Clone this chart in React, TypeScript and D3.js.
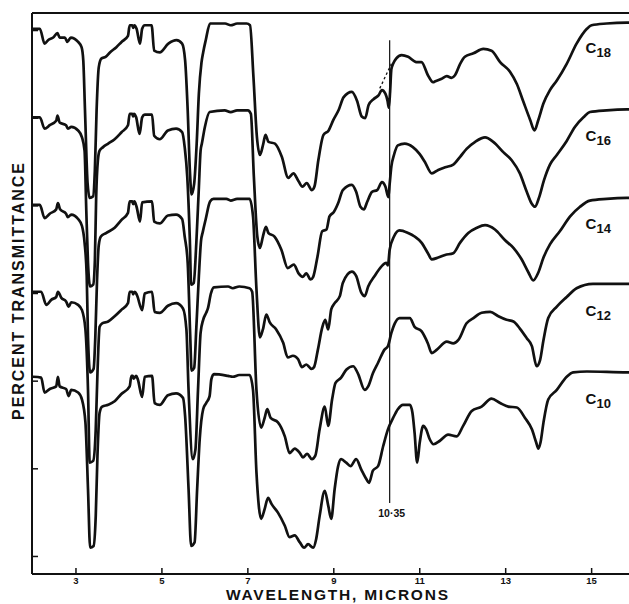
import * as d3 from "d3";

// x axis (microns) and the hidden y ticks on the left frame
const wavelengthTicks = [3, 5, 7, 9, 11, 13, 15];
const levelTicks = [0, 100, 200, 300, 400, 500, 600];

// chain length of each trace and the level where its trace starts
const chainLengths = ["18", "16", "14", "12", "10"];
const offsets = [600, 500, 400, 300, 200];

// marker for the 10.35 micron band
const markerWavelength = 10.3;
const markerLabel = "10·35";
const markerSpan = [61, 589];

// [wavelength, transmittance relative to the trace's start level]
const c18: [number, number][] = [
  [2.0, 2], [2.16, 2], [2.27, -15], [2.35, -11], [2.47, -8], [2.57, -3], [2.62, -8], [2.74, -8],
  [2.8, -13], [2.88, -8], [3.05, -13], [3.13, -19], [3.17, -34], [3.21, -91], [3.27, -174],
  [3.32, -191], [3.4, -189], [3.44, -159], [3.48, -91], [3.53, -42], [3.59, -32], [3.69, -30],
  [3.79, -25], [3.94, -19], [4.06, -13], [4.21, -6], [4.25, 6], [4.31, 6], [4.33, 3], [4.36, 6],
  [4.41, 2], [4.49, -15], [4.54, 2], [4.6, 6], [4.76, 6], [4.82, -23], [4.95, -25], [5.15, -15],
  [5.34, -11], [5.47, -15], [5.54, -34], [5.6, -91], [5.65, -159], [5.69, -187], [5.75, -175],
  [5.81, -128], [5.86, -72], [5.92, -37], [5.96, -25], [6.02, -11], [6.12, 8], [6.47, 8],
  [6.6, 6], [6.75, 8], [6.97, 8], [7.05, 6], [7.13, -53], [7.21, -121], [7.28, -142],
  [7.36, -129], [7.41, -119], [7.48, -127], [7.63, -129], [7.79, -144], [7.94, -168],
  [8.06, -163], [8.18, -172], [8.27, -178], [8.37, -174], [8.49, -182], [8.55, -178],
  [8.64, -148], [8.76, -119], [8.88, -114], [8.99, -102], [9.11, -91], [9.23, -76], [9.42, -70],
  [9.54, -80], [9.65, -98], [9.73, -100], [9.81, -85], [9.93, -78], [10.04, -74], [10.12, -68],
  [10.2, -72], [10.25, -80], [10.28, -88], [10.31, -70], [10.34, -44], [10.38, -38],
  [10.45, -32], [10.58, -28], [10.73, -30], [10.92, -36], [11.04, -36], [11.19, -51],
  [11.31, -59], [11.36, -58], [11.51, -55], [11.63, -52], [11.74, -54], [11.82, -51],
  [11.94, -38], [12.05, -30], [12.25, -26], [12.48, -21], [12.67, -23], [12.87, -36],
  [13.1, -47], [13.26, -61], [13.41, -81], [13.57, -102], [13.67, -114], [13.76, -102],
  [13.88, -83], [14.03, -68], [14.19, -57], [14.42, -38], [14.65, -15], [14.89, 2], [15.0, 6],
  [15.35, 8], [15.82, 9], [16.0, 9],
];
// dashed baseline drawn across the 10.35 band of C18
const c18Baseline: [number, number][] = [[10.07, -66], [10.34, -38]];

const c16: [number, number][] = [
  [2.0, 1], [2.16, 1], [2.27, -12], [2.39, -8], [2.54, -3], [2.57, 3], [2.62, -5], [2.77, -8],
  [2.81, -12], [2.89, -10], [3.05, -14], [3.14, -22], [3.2, -37], [3.24, -105], [3.28, -165],
  [3.33, -192], [3.4, -190], [3.44, -162], [3.47, -90], [3.51, -48], [3.55, -37], [3.63, -33],
  [3.75, -29], [3.9, -24], [4.06, -16], [4.21, -8], [4.25, 5], [4.31, 5], [4.33, 2], [4.35, 5],
  [4.4, 1], [4.48, -18], [4.54, 1], [4.6, 4], [4.77, 4], [4.82, -20], [4.95, -24], [5.14, -14],
  [5.33, -12], [5.47, -16], [5.53, -33], [5.59, -67], [5.65, -139], [5.68, -190], [5.74, -188],
  [5.8, -143], [5.86, -79], [5.9, -37], [5.93, -29], [6.0, -10], [6.11, 7], [6.46, 9], [6.6, 7],
  [6.75, 9], [7.0, 9], [7.07, 5], [7.14, -67], [7.22, -135], [7.28, -148], [7.35, -135],
  [7.42, -124], [7.48, -131], [7.62, -135], [7.78, -150], [7.93, -171], [8.07, -167],
  [8.18, -177], [8.28, -181], [8.36, -177], [8.46, -184], [8.52, -181], [8.62, -158],
  [8.73, -129], [8.83, -127], [8.9, -112], [9.0, -107], [9.1, -97], [9.21, -82], [9.42, -76],
  [9.52, -84], [9.62, -101], [9.7, -104], [9.78, -95], [9.89, -84], [10.01, -82], [10.12, -73],
  [10.2, -78], [10.27, -90], [10.3, -75], [10.34, -55], [10.4, -42], [10.49, -31], [10.65, -29],
  [10.84, -33], [11.0, -41], [11.12, -50], [11.28, -63], [11.43, -59], [11.59, -56],
  [11.78, -53], [11.94, -44], [12.09, -35], [12.29, -27], [12.52, -22], [12.71, -27],
  [12.95, -39], [13.14, -48], [13.33, -63], [13.49, -84], [13.6, -97], [13.68, -101],
  [13.78, -90], [13.89, -71], [14.03, -53], [14.19, -42], [14.42, -26], [14.61, -10],
  [14.81, 1], [14.96, 7], [15.35, 9], [15.82, 10], [16.0, 10],
];

const c14: [number, number][] = [
  [2.0, 1], [2.16, 1], [2.27, -14], [2.39, -9], [2.54, -4], [2.58, 3], [2.63, -4], [2.77, -9],
  [2.81, -13], [2.89, -10], [3.05, -15], [3.14, -23], [3.2, -42], [3.25, -80], [3.28, -150],
  [3.33, -190], [3.41, -186], [3.45, -150], [3.49, -85], [3.53, -45], [3.58, -35], [3.7, -31],
  [3.9, -25], [4.06, -16], [4.21, -8], [4.25, 5], [4.31, 5], [4.33, 2], [4.36, 5], [4.41, -1],
  [4.49, -18], [4.54, 4], [4.77, 5], [4.82, -18], [4.95, -20], [5.14, -11], [5.33, -10],
  [5.47, -15], [5.53, -35], [5.6, -65], [5.66, -150], [5.69, -188], [5.75, -185], [5.8, -140],
  [5.86, -80], [5.91, -40], [5.95, -30], [6.02, -15], [6.12, 5], [6.2, 8], [6.5, 8], [6.6, 6],
  [6.75, 8], [7.04, 8], [7.12, -12], [7.2, -95], [7.28, -150], [7.35, -141], [7.43, -124],
  [7.51, -133], [7.66, -141], [7.82, -156], [7.93, -173], [8.05, -171], [8.17, -175],
  [8.26, -184], [8.36, -181], [8.48, -186], [8.54, -184], [8.63, -164], [8.73, -139],
  [8.8, -130], [8.87, -141], [8.94, -118], [9.02, -111], [9.14, -103], [9.21, -88], [9.42, -75],
  [9.52, -80], [9.64, -99], [9.72, -103], [9.8, -92], [9.95, -80], [10.11, -69], [10.22, -65],
  [10.26, -68], [10.3, -50], [10.4, -35], [10.53, -28], [10.73, -31], [10.88, -35],
  [11.04, -42], [11.19, -54], [11.28, -61], [11.43, -59], [11.59, -56], [11.78, -54],
  [11.94, -42], [12.13, -31], [12.33, -25], [12.52, -22], [12.75, -27], [12.98, -39],
  [13.18, -48], [13.37, -61], [13.53, -76], [13.64, -85], [13.76, -76], [13.88, -59],
  [14.03, -44], [14.26, -29], [14.5, -12], [14.73, -1], [14.96, 6], [15.35, 8], [15.82, 9],
  [16.0, 9],
];

const c12: [number, number][] = [
  [2.0, 2], [2.19, 2], [2.31, -13], [2.43, -7], [2.54, -4], [2.58, 2], [2.66, -5], [2.77, -9],
  [2.83, -15], [2.89, -10], [3.05, -13], [3.14, -19], [3.22, -41], [3.28, -110], [3.32, -193],
  [3.4, -191], [3.46, -155], [3.5, -91], [3.55, -38], [3.61, -34], [3.75, -32], [3.9, -26],
  [4.05, -19], [4.21, -11], [4.25, 2], [4.31, 2], [4.33, -1], [4.37, 2], [4.42, -2],
  [4.54, -19], [4.6, 0], [4.77, 2], [4.83, -21], [4.95, -22], [5.14, -14], [5.33, -11],
  [5.49, -17], [5.57, -41], [5.62, -110], [5.72, -189], [5.78, -178], [5.84, -110],
  [5.9, -45], [5.96, -30], [6.03, -22], [6.07, -17], [6.14, 0], [6.21, 7], [6.54, 8],
  [6.65, 6], [6.8, 8], [7.04, 6], [7.1, 2], [7.2, -110], [7.31, -153], [7.39, -142],
  [7.45, -132], [7.53, -142], [7.7, -147], [7.86, -163], [7.97, -182], [8.09, -177],
  [8.21, -182], [8.28, -187], [8.38, -183], [8.49, -189], [8.57, -185], [8.67, -155],
  [8.79, -129], [8.87, -151], [8.96, -121], [9.04, -102], [9.17, -96], [9.29, -87],
  [9.45, -83], [9.56, -91], [9.72, -110], [9.8, -106], [9.91, -91], [10.03, -79],
  [10.18, -64], [10.26, -60], [10.34, -45], [10.42, -34], [10.53, -28], [10.77, -28],
  [10.88, -38], [11.04, -43], [11.19, -57], [11.28, -68], [11.4, -64], [11.63, -55],
  [11.78, -57], [11.9, -53], [12.09, -34], [12.25, -28], [12.44, -22], [12.64, -21],
  [12.83, -26], [13.02, -30], [13.18, -32], [13.33, -40], [13.49, -51], [13.61, -60],
  [13.72, -83], [13.8, -76], [13.88, -53], [13.99, -28], [14.19, -15], [14.42, -4],
  [14.65, 6], [15.03, 11], [15.82, 11], [16.0, 11],
];

const c10: [number, number][] = [
  [2.0, 5], [2.19, 4], [2.27, -13], [2.39, -9], [2.54, -6], [2.58, 5], [2.62, -6], [2.77, -9],
  [2.83, -17], [2.89, -10], [3.05, -13], [3.14, -21], [3.22, -47], [3.28, -123], [3.33, -190],
  [3.41, -188], [3.46, -154], [3.5, -85], [3.55, -36], [3.61, -29], [3.75, -27], [3.9, -23],
  [4.05, -15], [4.25, -6], [4.29, 6], [4.32, 6], [4.34, 3], [4.4, 6], [4.44, 2], [4.54, -18],
  [4.6, 5], [4.77, 6], [4.83, -25], [4.95, -27], [5.14, -16], [5.33, -14], [5.49, -19],
  [5.54, -40], [5.62, -123], [5.68, -188], [5.76, -184], [5.82, -123], [5.88, -66],
  [5.96, -32], [6.03, -25], [6.11, -17], [6.15, 2], [6.21, 8], [6.54, 6], [6.65, 5],
  [6.8, 7], [7.04, 7], [7.12, -10], [7.2, -104], [7.31, -157], [7.39, -146], [7.47, -133],
  [7.55, -140], [7.7, -150], [7.86, -165], [7.97, -178], [8.09, -176], [8.21, -184],
  [8.31, -190], [8.4, -186], [8.52, -190], [8.59, -180], [8.67, -154], [8.79, -125],
  [8.87, -142], [8.94, -157], [9.02, -123], [9.1, -97], [9.17, -89], [9.29, -93], [9.39, -97],
  [9.52, -89], [9.64, -101], [9.76, -112], [9.82, -116], [9.91, -102], [10.03, -97],
  [10.15, -74], [10.26, -55], [10.38, -42], [10.49, -32], [10.61, -27], [10.77, -27],
  [10.83, -36], [10.88, -59], [10.94, -93], [11.0, -70], [11.08, -51], [11.15, -55],
  [11.23, -66], [11.32, -72], [11.47, -68], [11.66, -61], [11.86, -63], [12.01, -51],
  [12.21, -34], [12.44, -29], [12.67, -20], [12.87, -25], [13.06, -29], [13.26, -30],
  [13.45, -42], [13.61, -55], [13.71, -70], [13.76, -77], [13.81, -70], [13.88, -47],
  [13.99, -21], [14.19, -10], [14.42, 5], [14.57, 10], [14.89, 11], [15.82, 10], [16.0, 10],
];

const series = [c18, c16, c14, c12, c10];

const width = 629;
const height = 604;
const margin = { top: 13, bottom: 30, left: 32 };
const ink = "#111";
const font = "'Liberation Sans', Arial, sans-serif";

export default function App() {
  const x = d3.scaleLinear().domain([2, 16]).range([33, 634.6]);
  const y = d3
    .scaleLinear()
    .domain([-20, 620])
    .range([height - margin.bottom, margin.top]);
  const axisY = height - margin.bottom;

  const line = (offset: number) =>
    d3
      .line<[number, number]>()
      .x((d) => x(d[0]))
      .y((d) => y(offset + d[1]))
      .curve(d3.curveMonotoneX);

  return (
    <>
      <style>{"body{margin:0;background:#fff}"}</style>
      <svg width={width} height={height} style={{ display: "block", background: "#fff" }}>
        {/* frame */}
        <line x1={margin.left} x2={width} y1={margin.top} y2={margin.top} stroke={ink} strokeWidth={2} />
        <line x1={margin.left} x2={margin.left} y1={margin.top} y2={axisY} stroke={ink} strokeWidth={2} />
        <line x1={margin.left} x2={width} y1={axisY} y2={axisY} stroke={ink} strokeWidth={2} />

        {levelTicks.map((t) => (
          <line key={t} x1={margin.left} x2={margin.left + 6} y1={y(t)} y2={y(t)} stroke={ink} strokeWidth={1.5} />
        ))}

        {wavelengthTicks.map((t) => (
          <g key={t}>
            <line x1={x(t)} x2={x(t)} y1={axisY - 6} y2={axisY + 1} stroke={ink} strokeWidth={1.5} />
            <text x={x(t)} y={axisY + 10} textAnchor="middle" fontFamily={font} fontWeight="bold" fontSize={9.5} fill={ink}>
              {t}
            </text>
          </g>
        ))}

        {/* traces */}
        {series.map((s, i) => (
          <path key={i} d={line(offsets[i])(s) ?? ""} fill="none" stroke={ink} strokeWidth={2.7} strokeLinejoin="round" strokeLinecap="round" />
        ))}
        <path d={line(offsets[0])(c18Baseline) ?? ""} fill="none" stroke={ink} strokeWidth={1.3} strokeDasharray="2.5,2.5" />

        {/* 10.35 marker */}
        <line
          x1={x(markerWavelength)}
          x2={x(markerWavelength)}
          y1={y(markerSpan[1])}
          y2={y(markerSpan[0])}
          stroke={ink}
          strokeWidth={1.2}
        />
        <text x={x(markerWavelength) + 2} y={y(markerSpan[0]) + 14} textAnchor="middle" fontFamily={font} fontWeight={600} fontSize={10.5} fill={ink}>
          {markerLabel}
        </text>

        {/* trace labels */}
        {chainLengths.map((n, i) => (
          <text key={n} x={x(14.86)} y={y(offsets[i] - 26)} fontFamily={font} fontWeight="bold" fontSize={15} fill={ink}>
            C
            <tspan fontSize={13} dy={4}>
              {n}
            </tspan>
          </text>
        ))}

        {/* axis titles */}
        <text
          x={337}
          y={height - 4}
          textAnchor="middle"
          fontFamily={font}
          fontWeight="bold"
          fontSize={15.5}
          textLength={222}
          lengthAdjust="spacing"
          fill={ink}
        >
          WAVELENGTH, MICRONS
        </text>
        <text
          transform={`translate(23.5, ${(y(-20) + y(620)) / 2 - 2}) rotate(-90)`}
          textAnchor="middle"
          fontFamily={font}
          fontWeight="bold"
          fontSize={16}
          textLength={257}
          lengthAdjust="spacing"
          fill={ink}
        >
          PERCENT TRANSMITTANCE
        </text>
      </svg>
    </>
  );
}
